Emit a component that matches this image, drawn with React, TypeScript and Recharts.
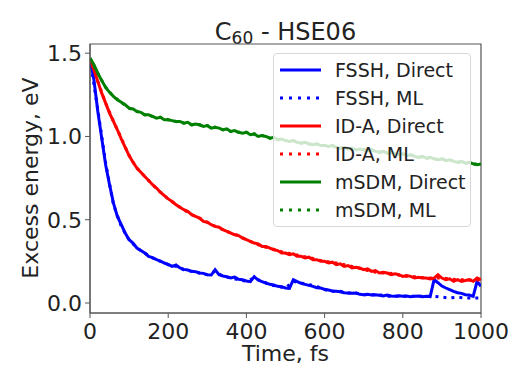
import { LineChart, Line, XAxis, YAxis, Legend, ReferenceArea } from 'recharts';

// time grid for the direct runs (10 fs) and the ML runs (20 fs)
const directTimes = Array.from({ length: 101 }, (_, i) => i * 10);
const mlTimes = Array.from({ length: 51 }, (_, i) => i * 20);

const xTicks = [0, 200, 400, 600, 800, 1000];
const yTicks = [0, 0.5, 1.0, 1.5];

// excess energy (eV), direct NA-MD
const fsshDirect = [
  1.47, 1.34, 1.15, 0.99, 0.83, 0.71, 0.6, 0.52, 0.47, 0.42,
  0.38, 0.36, 0.33, 0.315, 0.3, 0.28, 0.272, 0.26, 0.252, 0.24,
  0.232, 0.22, 0.228, 0.21, 0.202, 0.198, 0.19, 0.188, 0.18, 0.178,
  0.17, 0.168, 0.2, 0.17, 0.162, 0.158, 0.15, 0.156, 0.142, 0.14,
  0.132, 0.128, 0.158, 0.138, 0.128, 0.12, 0.112, 0.108, 0.1, 0.098,
  0.09, 0.088, 0.14, 0.128, 0.118, 0.112, 0.106, 0.1, 0.092, 0.09,
  0.082, 0.078, 0.072, 0.07, 0.068, 0.062, 0.06, 0.058, 0.06, 0.052,
  0.05, 0.052, 0.048, 0.05, 0.046, 0.042, 0.048, 0.042, 0.04, 0.044,
  0.04, 0.042, 0.038, 0.04, 0.042, 0.038, 0.04, 0.038, 0.14, 0.122,
  0.102, 0.09, 0.08, 0.07, 0.062, 0.058, 0.05, 0.048, 0.04, 0.13, 0.1,
];
const idaDirect = [
  1.47, 1.4, 1.33, 1.26, 1.2, 1.14, 1.09, 1.04, 0.985, 0.935,
  0.885, 0.845, 0.81, 0.785, 0.76, 0.735, 0.71, 0.69, 0.665, 0.645,
  0.625, 0.61, 0.59, 0.575, 0.56, 0.55, 0.53, 0.52, 0.51, 0.49,
  0.485, 0.47, 0.46, 0.455, 0.44, 0.43, 0.42, 0.41, 0.405, 0.39,
  0.38, 0.37, 0.36, 0.355, 0.34, 0.34, 0.33, 0.32, 0.315, 0.3,
  0.3, 0.29, 0.295, 0.28, 0.28, 0.27, 0.275, 0.26, 0.26, 0.25,
  0.25, 0.24, 0.245, 0.23, 0.235, 0.22, 0.225, 0.21, 0.215, 0.21,
  0.2, 0.205, 0.19, 0.195, 0.18, 0.185, 0.18, 0.17, 0.175, 0.17,
  0.16, 0.165, 0.16, 0.15, 0.155, 0.15, 0.15, 0.145, 0.15, 0.17,
  0.15, 0.14, 0.145, 0.13, 0.14, 0.13, 0.135, 0.14, 0.13, 0.15, 0.14,
];
const msdmDirect = [
  1.47, 1.43, 1.38, 1.335, 1.295, 1.265, 1.24, 1.22, 1.205, 1.19,
  1.17, 1.165, 1.15, 1.145, 1.13, 1.13, 1.12, 1.11, 1.115, 1.1,
  1.1, 1.095, 1.09, 1.09, 1.08, 1.085, 1.07, 1.075, 1.07, 1.06,
  1.065, 1.05, 1.055, 1.05, 1.04, 1.045, 1.03, 1.035, 1.025, 1.02,
  1.025, 1.01, 1.015, 1.0, 1.005, 1.0, 0.99, 0.995, 0.98, 0.985,
  0.975, 0.97, 0.975, 0.965, 0.96, 0.965, 0.955, 0.95, 0.955, 0.945,
  0.945, 0.94, 0.945, 0.935, 0.93, 0.935, 0.925, 0.93, 0.92, 0.925,
  0.92, 0.915, 0.92, 0.91, 0.905, 0.91, 0.9, 0.905, 0.895, 0.89,
  0.895, 0.885, 0.89, 0.88, 0.875, 0.88, 0.87, 0.875, 0.865, 0.86,
  0.865, 0.855, 0.86, 0.85, 0.845, 0.85, 0.84, 0.845, 0.835, 0.83, 0.835,
];

// excess energy (eV), ML-driven NA-MD
const fsshMl = [
  1.47, 1.16, 0.84, 0.59, 0.46, 0.38, 0.33, 0.3, 0.27, 0.25,
  0.23, 0.22, 0.2, 0.19, 0.18, 0.17, 0.19, 0.16, 0.15, 0.14,
  0.13, 0.15, 0.13, 0.11, 0.1, 0.09, 0.13, 0.12, 0.11, 0.1,
  0.08, 0.07, 0.07, 0.06, 0.06, 0.05, 0.05, 0.05, 0.04, 0.04,
  0.04, 0.04, 0.04, 0.04, 0.04, 0.035, 0.03, 0.035, 0.03, 0.03, 0.03,
];
const idaMl = [
  1.47, 1.33, 1.2, 1.09, 0.99, 0.885, 0.81, 0.76, 0.71, 0.665,
  0.625, 0.59, 0.56, 0.53, 0.51, 0.485, 0.46, 0.44, 0.42, 0.405,
  0.38, 0.36, 0.34, 0.33, 0.315, 0.3, 0.295, 0.28, 0.275, 0.26,
  0.25, 0.245, 0.235, 0.225, 0.215, 0.2, 0.19, 0.18, 0.18, 0.175,
  0.16, 0.16, 0.155, 0.15, 0.15, 0.15, 0.145, 0.14, 0.14, 0.135, 0.14,
];
const msdmMl = [
  1.47, 1.38, 1.295, 1.24, 1.205, 1.17, 1.15, 1.13, 1.12, 1.115,
  1.1, 1.09, 1.08, 1.07, 1.07, 1.065, 1.055, 1.04, 1.03, 1.025,
  1.025, 1.015, 1.005, 0.99, 0.98, 0.975, 0.975, 0.96, 0.955, 0.955,
  0.945, 0.945, 0.93, 0.925, 0.92, 0.92, 0.92, 0.905, 0.9, 0.895,
  0.895, 0.89, 0.875, 0.87, 0.865, 0.865, 0.86, 0.845, 0.84, 0.835, 0.835,
];

const directData = directTimes.map((t, i) => ({
  t,
  fssh: fsshDirect[i],
  ida: idaDirect[i],
  msdm: msdmDirect[i],
}));
const mlData = mlTimes.map((t, i) => ({
  t,
  fssh: fsshMl[i],
  ida: idaMl[i],
  msdm: msdmMl[i],
}));

const FONT = 'DejaVu Sans, sans-serif';
const INK = '#222';
const SPINE = '#555';

const legendRows = [
  { label: 'FSSH, Direct', color: '#0000ff', dotted: false },
  { label: 'FSSH, ML', color: '#0000ff', dotted: true },
  { label: 'ID-A, Direct', color: '#ff0000', dotted: false },
  { label: 'ID-A, ML', color: '#ff0000', dotted: true },
  { label: 'mSDM, Direct', color: '#008000', dotted: false },
  { label: 'mSDM, ML', color: '#008000', dotted: true },
];

function LegendBox() {
  return (
    <div style={{ paddingTop: 2 }}>
      {legendRows.map((r) => (
        <div
          key={r.label}
          style={{ display: 'flex', alignItems: 'center', height: 28 }}
        >
          <svg width={54} height={28} style={{ flex: 'none' }}>
            <line
              x1={6}
              x2={47}
              y1={14}
              y2={14}
              stroke={r.color}
              strokeWidth={3}
              strokeDasharray={r.dotted ? '3 6' : undefined}
            />
          </svg>
          <span
            style={{
              marginLeft: 7,
              fontFamily: FONT,
              fontSize: 19,
              color: INK,
              whiteSpace: 'nowrap',
            }}
          >
            {r.label}
          </span>
        </div>
      ))}
    </div>
  );
}

export default function App() {
  return (
    <div style={{ position: 'absolute', left: 0, top: 0, background: '#fff' }}>
      <LineChart
        width={513}
        height={367}
        margin={{ top: 44, right: 32, bottom: 0, left: 0 }}
      >
        <XAxis
          dataKey="t"
          type="number"
          domain={[0, 1000]}
          ticks={xTicks}
          allowDataOverflow
          height={54}
          stroke={SPINE}
          tickSize={5}
          tickMargin={5}
          tick={{ fontSize: 22, fill: INK, fontFamily: FONT }}
        />
        <YAxis
          type="number"
          domain={[-0.06, 1.555]}
          ticks={yTicks}
          allowDataOverflow
          width={90}
          stroke={SPINE}
          tickSize={5}
          tickMargin={3}
          tickFormatter={(v: number) => v.toFixed(1)}
          tick={{ fontSize: 22, fill: INK, fontFamily: FONT }}
        />
        <Line data={directData} dataKey="fssh" stroke="#0000ff" strokeWidth={3} dot={false} isAnimationActive={false} />
        <Line data={mlData} dataKey="fssh" stroke="#0000ff" strokeWidth={3} strokeDasharray="3 5" dot={false} isAnimationActive={false} />
        <Line data={directData} dataKey="ida" stroke="#ff0000" strokeWidth={3} dot={false} isAnimationActive={false} />
        <Line data={mlData} dataKey="ida" stroke="#ff0000" strokeWidth={3} strokeDasharray="3 5" dot={false} isAnimationActive={false} />
        <Line data={directData} dataKey="msdm" stroke="#008000" strokeWidth={3} dot={false} isAnimationActive={false} />
        <Line data={mlData} dataKey="msdm" stroke="#008000" strokeWidth={3} strokeDasharray="3 5" dot={false} isAnimationActive={false} />
        <ReferenceArea
          x1={0}
          x2={1000}
          y1={-0.06}
          y2={1.555}
          fill="none"
          fillOpacity={0}
          stroke={SPINE}
          strokeWidth={1.2}
          strokeOpacity={1}
        />
        <Legend
          layout="vertical"
          align="center"
          verticalAlign="middle"
          content={() => <LegendBox />}
          wrapperStyle={{
            left: 273,
            top: 53,
            width: 198,
            height: 174,
            boxSizing: 'border-box',
            background: 'rgba(255,255,255,0.8)',
            border: '1px solid #d8d8d8',
            borderRadius: 4,
          }}
        />
        <text x={285.5} y={40} textAnchor="middle" fontFamily={FONT} fontSize={24} fill={INK}>
          C
          <tspan fontSize={17} dy={4}>60</tspan>
          <tspan dy={-4}> - HSE06</tspan>
        </text>
        <text
          x={30}
          y={178}
          transform="rotate(-90 30 178)"
          textAnchor="middle"
          dominantBaseline="central"
          fontFamily={FONT}
          fontSize={22}
          fill={INK}
        >
          Excess energy, eV
        </text>
        <text x={285.5} y={361} textAnchor="middle" fontFamily={FONT} fontSize={22} fill={INK}>
          Time, fs
        </text>
      </LineChart>
    </div>
  );
}
